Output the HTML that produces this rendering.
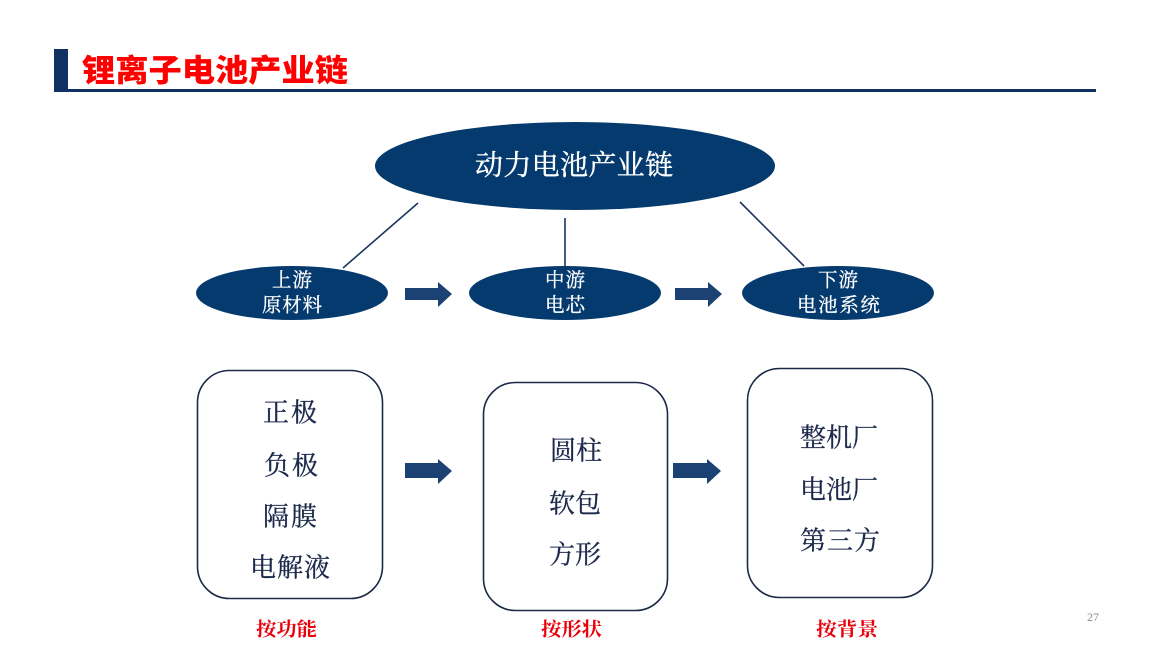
<!DOCTYPE html>
<html>
<head>
<meta charset="utf-8">
<style>
  html, body { margin:0; padding:0; background:#ffffff; }
  body { width:1150px; height:647px; overflow:hidden; }
  svg { display:block; }
  .t { font-family: "Liberation Serif", "Noto Serif CJK SC", serif; }
</style>
</head>
<body>
<svg width="1150" height="647" viewBox="0 0 1150 647" xmlns="http://www.w3.org/2000/svg">
  <!-- Title -->
  <rect x="54" y="49" width="14" height="41" fill="#0f3263"/>
  <rect x="54" y="89" width="1042" height="3" fill="#0f3263"/>
  <text x="82" y="71" dominant-baseline="central" textLength="266" lengthAdjust="spacingAndGlyphs"
        font-family="'Liberation Sans','Noto Sans CJK SC',sans-serif" font-weight="900" font-size="31" fill="#ff0000">锂离子电池产业链</text>

  <!-- Big ellipse -->
  <ellipse cx="575" cy="166" rx="200" ry="44" fill="#053a6e"/>
  <text class="t" x="475" y="166" dominant-baseline="central" textLength="198" lengthAdjust="spacing"
        font-size="28" fill="#ffffff" stroke="#ffffff" stroke-width="0.4">动力电池产业链</text>

  <!-- connector lines -->
  <line x1="418" y1="203" x2="343" y2="268" stroke="#1c3560" stroke-width="1.6"/>
  <line x1="565" y1="218" x2="565" y2="268" stroke="#1c3560" stroke-width="1.6"/>
  <line x1="740" y1="202" x2="804" y2="266" stroke="#1c3560" stroke-width="1.6"/>

  <!-- small ellipses -->
  <ellipse cx="292" cy="293" rx="96" ry="27" fill="#053a6e"/>
  <ellipse cx="565" cy="293" rx="96" ry="27" fill="#053a6e"/>
  <ellipse cx="838" cy="293" rx="96" ry="27" fill="#053a6e"/>

  <g class="t" font-size="19.5" fill="#ffffff" stroke="#ffffff" stroke-width="0.3">
    <text x="272" y="281" dominant-baseline="central" textLength="40" lengthAdjust="spacing">上游</text>
    <text x="262" y="306" dominant-baseline="central" textLength="60" lengthAdjust="spacing">原材料</text>

    <text x="545" y="281" dominant-baseline="central" textLength="40" lengthAdjust="spacing">中游</text>
    <text x="545" y="306" dominant-baseline="central" textLength="40" lengthAdjust="spacing">电芯</text>

    <text x="818" y="281" dominant-baseline="central" textLength="40" lengthAdjust="spacing">下游</text>
    <text x="797" y="306" dominant-baseline="central" textLength="83" lengthAdjust="spacing">电池系统</text>
  </g>

  <!-- top arrows -->
  <polygon points="405,288 438,288 438,282 452,294 438,307 438,300 405,300" fill="#1b4272"/>
  <polygon points="675,288 708,288 708,282 722,294 708,307 708,300 675,300" fill="#1b4272"/>

  <!-- rounded boxes -->
  <rect x="197.5" y="370.5" width="185" height="228" rx="32" ry="32" fill="#ffffff" stroke="#1c2a48" stroke-width="1.6"/>
  <rect x="483.5" y="382.5" width="184" height="228" rx="32" ry="32" fill="#ffffff" stroke="#1c2a48" stroke-width="1.6"/>
  <rect x="747.5" y="368.5" width="185" height="229" rx="32" ry="32" fill="#ffffff" stroke="#1c2a48" stroke-width="1.6"/>

  <!-- box texts -->
  <g class="t" font-size="26" fill="#1d2a4c" stroke="#1d2a4c" stroke-width="0.3">
    <text x="263" y="413" dominant-baseline="central" textLength="54" lengthAdjust="spacing">正极</text>
    <text x="264" y="466" dominant-baseline="central" textLength="54" lengthAdjust="spacing">负极</text>
    <text x="263" y="517" dominant-baseline="central" textLength="54" lengthAdjust="spacing">隔膜</text>
    <text x="250" y="568" dominant-baseline="central" textLength="80" lengthAdjust="spacing">电解液</text>

    <text x="550" y="451" dominant-baseline="central" textLength="52" lengthAdjust="spacing">圆柱</text>
    <text x="549" y="504" dominant-baseline="central" textLength="52" lengthAdjust="spacing">软包</text>
    <text x="549" y="555" dominant-baseline="central" textLength="52" lengthAdjust="spacing">方形</text>

    <text x="800" y="438" dominant-baseline="central" textLength="78" lengthAdjust="spacing">整机厂</text>
    <text x="800" y="490" dominant-baseline="central" textLength="78" lengthAdjust="spacing">电池厂</text>
    <text x="800" y="541" dominant-baseline="central" textLength="80" lengthAdjust="spacing">第三方</text>
  </g>

  <!-- bottom arrows -->
  <polygon points="405,463 438,463 438,459 452,471 438,484 438,478 405,478" fill="#1b4272"/>
  <polygon points="673,463 707,463 707,459 721,471 707,484 707,478 673,478" fill="#1b4272"/>

  <!-- red labels -->
  <g font-family="'Liberation Serif','Noto Serif CJK SC',serif" font-weight="700" font-size="19" fill="#e8000b">
    <text x="256" y="630" dominant-baseline="central" textLength="61" lengthAdjust="spacingAndGlyphs">按功能</text>
    <text x="541" y="630" dominant-baseline="central" textLength="61" lengthAdjust="spacingAndGlyphs">按形状</text>
    <text x="816" y="630" dominant-baseline="central" textLength="62" lengthAdjust="spacingAndGlyphs">按背景</text>
  </g>

  <!-- page number -->
  <text x="1093" y="617" text-anchor="middle" dominant-baseline="central"
        font-family="'Liberation Serif',serif" font-size="12" fill="#8a8a8a">27</text>
</svg>
</body>
</html>
